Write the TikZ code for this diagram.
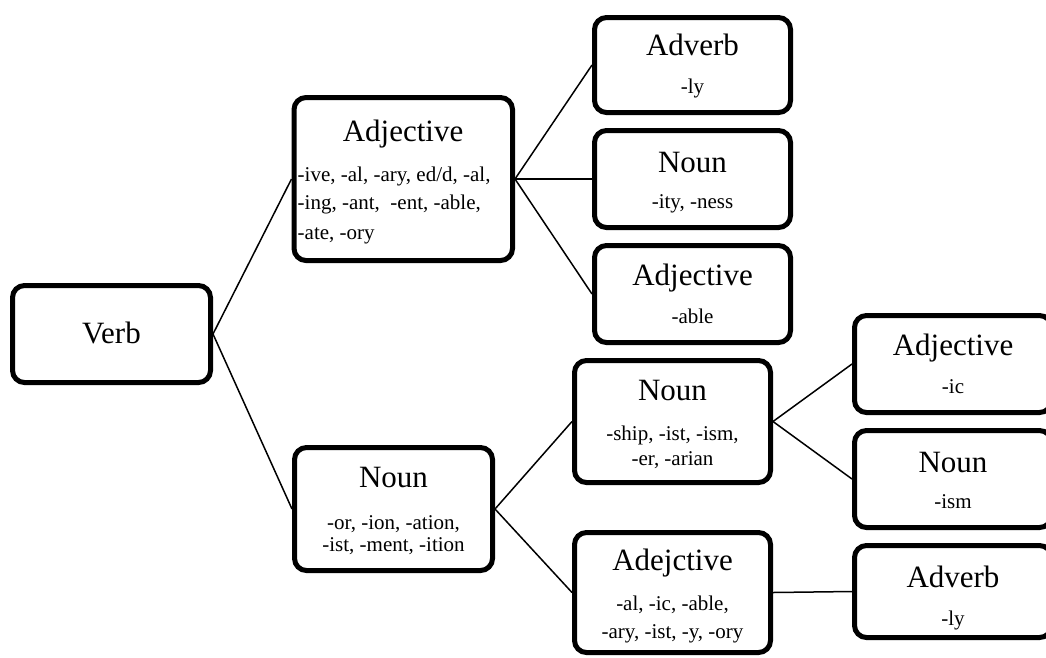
\documentclass[tikz,border=0pt]{standalone}
\usepackage{fontspec}
\setmainfont{Liberation Serif}
\tikzset{
  box/.style={draw=black, line width=5pt, rounded corners=12pt, fill=white, inner sep=0pt},
  ttl/.style={anchor=base, inner sep=0pt, font=\fontsize{31}{36}\selectfont},
  sfx/.style={anchor=base, inner sep=0pt, font=\fontsize{21}{24}\selectfont},
  link/.style={line width=1.5pt, draw=black},
}
\begin{document}
\begin{tikzpicture}[x=1pt,y=-1pt]
\useasboundingbox (0,0) rectangle (1046,657);
\clip (0,0) rectangle (1046,657);
\fill[white] (0,0) rectangle (1046,657);

% boxes
\node[box, minimum width=198pt, minimum height=97pt] (verb) at (111.5,334) {};
\node[box, minimum width=218.5pt, minimum height=163pt] (adjM) at (403.25,179) {};
\node[box, minimum width=198pt, minimum height=123pt] (nounM) at (393.5,509) {};
\node[box, minimum width=196pt, minimum height=95pt] (advA) at (692.5,65) {};
\node[box, minimum width=196pt, minimum height=97pt] (nounA) at (692.5,179) {};
\node[box, minimum width=196pt, minimum height=97pt] (adjA) at (692.5,294) {};
\node[box, minimum width=196pt, minimum height=122pt] (nounB) at (672.5,421.5) {};
\node[box, minimum width=196pt, minimum height=120pt] (adjB) at (672.5,592.5) {};
\node[box, minimum width=197pt, minimum height=97pt] (adjC) at (953,364) {};
\node[box, minimum width=197pt, minimum height=97pt] (nounC) at (953,479) {};
\node[box, minimum width=197pt, minimum height=92pt] (advC) at (953,591.5) {};

% connectors
\draw[link] (verb.east) -- (adjM.west);
\draw[link] (verb.east) -- (nounM.west);
\draw[link] (adjM.east) -- (advA.west);
\draw[link] (adjM.east) -- (nounA.west);
\draw[link] (adjM.east) -- (adjA.west);
\draw[link] (nounM.east) -- (nounB.west);
\draw[link] (nounM.east) -- (adjB.west);
\draw[link] (nounB.east) -- (adjC.west);
\draw[link] (nounB.east) -- (nounC.west);
\draw[link] (adjB.east) -- (advC.west);

% texts
\node[ttl] (verbT) at (111.5,343) {Verb};

\node[ttl] (adjMT) at (403,141) {Adjective};
\node[sfx, anchor=base west] (adjMS1) at (297.5,181) {-ive, -al, -ary, ed/d, -al,};
\node[sfx, anchor=base west] (adjMS2) at (297.5,209) {-ing, -ant,\ \ -ent, -able,};
\node[sfx, anchor=base west] (adjMS3) at (297.5,239) {-ate, -ory};

\node[ttl] (nounMT) at (393.5,487) {Noun};
\node[sfx] (nounMS1) at (393.5,529) {-or, -ion, -ation,};
\node[sfx] (nounMS2) at (393.5,551) {-ist, -ment, -ition};

\node[ttl] (advAT) at (692.5,55) {Adverb};
\node[sfx] (advAS) at (692.5,93) {-ly};

\node[ttl] (nounAT) at (692.5,172) {Noun};
\node[sfx] (nounAS) at (692.5,208) {-ity, -ness};

\node[ttl] (adjAT) at (692.5,285) {Adjective};
\node[sfx] (adjAS) at (692.5,323) {-able};

\node[ttl] (nounBT) at (672.5,400) {Noun};
\node[sfx] (nounBS1) at (672.5,440) {-ship, -ist, -ism,};
\node[sfx] (nounBS2) at (672.5,465) {-er, -arian};

\node[ttl] (adjBT) at (672.5,570) {Adejctive};
\node[sfx] (adjBS1) at (672.5,610) {-al, -ic, -able,};
\node[sfx] (adjBS2) at (672.5,638) {-ary, -ist, -y, -ory};

\node[ttl] (adjCT) at (953,355) {Adjective};
\node[sfx] (adjCS) at (953,393) {-ic};

\node[ttl] (nounCT) at (953,472) {Noun};
\node[sfx] (nounCS) at (953,508) {-ism};

\node[ttl] (advCT) at (953,587) {Adverb};
\node[sfx] (advCS) at (953,625) {-ly};
\end{tikzpicture}
\end{document}
